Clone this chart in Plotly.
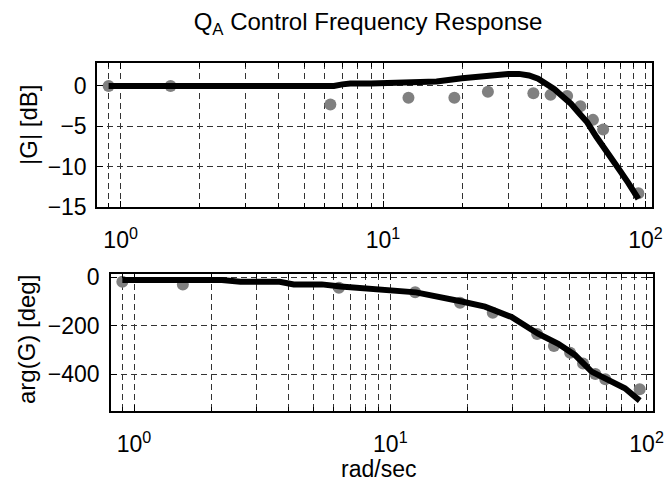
import plotly.graph_objects as go

# measured points (gray dots)
w_meas = [0.9, 1.55, 6.3, 12.5, 18.7, 25.1, 37.4, 43.5, 50.3, 56.5, 63.1, 69.0, 94.0]
mag_meas = [0.0, 0.0, -2.3, -1.45, -1.45, -0.7, -0.9, -1.1, -1.25, -2.5, -4.2, -5.4, -13.3]
phase_meas = [-18, -29, -43, -62, -105, -146, -234, -284, -312, -356, -400, -422, -463]

# model response (black line)
w_mag_fit = [0.9, 6.5, 7.0, 7.5, 9.0, 12.5, 16.0, 20.0, 25.0, 30.0, 33.0, 36.0, 39.0, 42.0,
             45.0, 48.0, 52.0, 56.0, 60.0, 65.0, 70.0, 75.0, 80.0, 86.0, 94.0]
mag_fit = [0.0, 0.0, 0.2, 0.3, 0.3, 0.45, 0.55, 0.95, 1.35, 1.5, 1.5, 1.3, 0.9, 0.3,
           -0.4, -1.2, -2.2, -3.4, -4.5, -6.3, -7.7, -9.1, -10.5, -12.0, -14.0]
w_phase_fit = [0.9, 2.2, 2.6, 3.7, 4.2, 5.4, 6.4, 7.7, 9.5, 12.6, 19.0, 23.4, 29.7, 37.7,
               45.2, 52.5, 61.0, 73.0, 82.3, 94.0]
phase_fit = [-11, -11, -18, -18, -29, -29, -38, -44, -50, -62, -100, -121, -164, -233,
             -275, -321, -390, -432, -459, -510]

# axis ticks
x_major = [1, 10, 100]
x_major_text = ["10<sup>0</sup>", "10<sup>1</sup>", "10<sup>2</sup>"]
x_minor = [0.9, 2, 3, 4, 5, 6, 7, 8, 9, 20, 30, 40, 50, 60, 70, 80, 90]
mag_ticks = [0, -5, -10, -15]
phase_ticks = [0, -200, -400]

W, H = 667, 484
FONT = "Liberation Sans, Arial, Helvetica, sans-serif"

fig = go.Figure()

dot_style = dict(mode="markers", marker=dict(color="#808080", size=12), showlegend=False, hoverinfo="skip")
line_style = dict(mode="lines", line=dict(color="black", width=6), showlegend=False, hoverinfo="skip")

fig.add_trace(go.Scatter(x=w_meas, y=mag_meas, xaxis="x", yaxis="y", **dot_style))
fig.add_trace(go.Scatter(x=w_mag_fit, y=mag_fit, xaxis="x", yaxis="y", **line_style))
fig.add_trace(go.Scatter(x=w_meas, y=phase_meas, xaxis="x2", yaxis="y2", **dot_style))
fig.add_trace(go.Scatter(x=w_phase_fit, y=phase_fit, xaxis="x2", yaxis="y2", **line_style))


def px_x(a, b):
    return [a / W, b / W]


def px_y(top, bottom):
    return [1 - bottom / H, 1 - top / H]


GRIDCOL = "#333333"
DASH = "6px,4px"


def xaxis(domain, anchor):
    return dict(
        type="log", domain=domain, anchor=anchor, range=[-0.09, 2.025], automargin=False,
        tickmode="array", tickvals=x_major, ticktext=x_major_text,
        ticks="inside", ticklen=6, tickcolor="black", tickwidth=1,
        showline=True, linecolor="black", linewidth=1.5, mirror="allticks",
        tickfont=dict(family=FONT, size=23, color="black"), ticklabelstandoff=12,
        minor=dict(tickmode="array", tickvals=x_minor, ticks="inside", ticklen=4,
                   tickcolor="black", showgrid=True, gridcolor=GRIDCOL,
                   griddash=DASH, gridwidth=1),
        zeroline=False, showgrid=True, gridcolor=GRIDCOL, griddash=DASH, gridwidth=1,
    )


def yaxis(domain, anchor, rng, vals, standoff):
    return dict(
        domain=domain, anchor=anchor, range=rng, automargin=False,
        tickmode="array", tickvals=vals,
        ticks="inside", ticklen=6, tickcolor="black", tickwidth=1,
        showline=True, linecolor="black", linewidth=1.5, mirror="allticks",
        tickfont=dict(family=FONT, size=23, color="black"), ticklabelstandoff=standoff,
        zeroline=False, showgrid=True, gridcolor=GRIDCOL, griddash=DASH, gridwidth=1,
    )


fig.update_layout(
    template="none",
    width=W, height=H,
    margin=dict(l=0, r=0, t=0, b=0),
    paper_bgcolor="white", plot_bgcolor="white",
    font=dict(family=FONT, color="black"),
    xaxis=xaxis(px_x(97, 652), "y"),
    yaxis=yaxis(px_y(63, 207), "x", [-15, 2.85], mag_ticks, 4),
    xaxis2=xaxis(px_x(111, 653), "y2"),
    yaxis2=yaxis(px_y(274, 411), "x2", [-553, 14], phase_ticks, 5),
    title=dict(text="Q<sub>A</sub> Control Frequency Response", x=368 / W, xanchor="center",
               y=1 - 22 / H, yanchor="middle", font=dict(family=FONT, size=24, color="black")),
    annotations=[
        dict(text="|G| [dB]", x=29 / W, y=1 - 125 / H, xref="paper", yref="paper",
             xanchor="center", yanchor="middle",
             textangle=-90, showarrow=False, font=dict(family=FONT, size=24, color="black")),
        dict(text="arg(G) [deg]", x=26 / W, y=1 - 340 / H, xref="paper", yref="paper",
             xanchor="center", yanchor="middle",
             textangle=-90, showarrow=False, font=dict(family=FONT, size=24, color="black")),
        dict(text="rad/sec", x=378 / W, y=1 - 469 / H, xref="paper", yref="paper",
             xanchor="center", yanchor="middle",
             showarrow=False, font=dict(family=FONT, size=23, color="black")),
    ],
)

fig.write_html("out.html", config={"displayModeBar": False},
               post_script="document.body.style.margin='0px';document.body.style.overflow='hidden';")
